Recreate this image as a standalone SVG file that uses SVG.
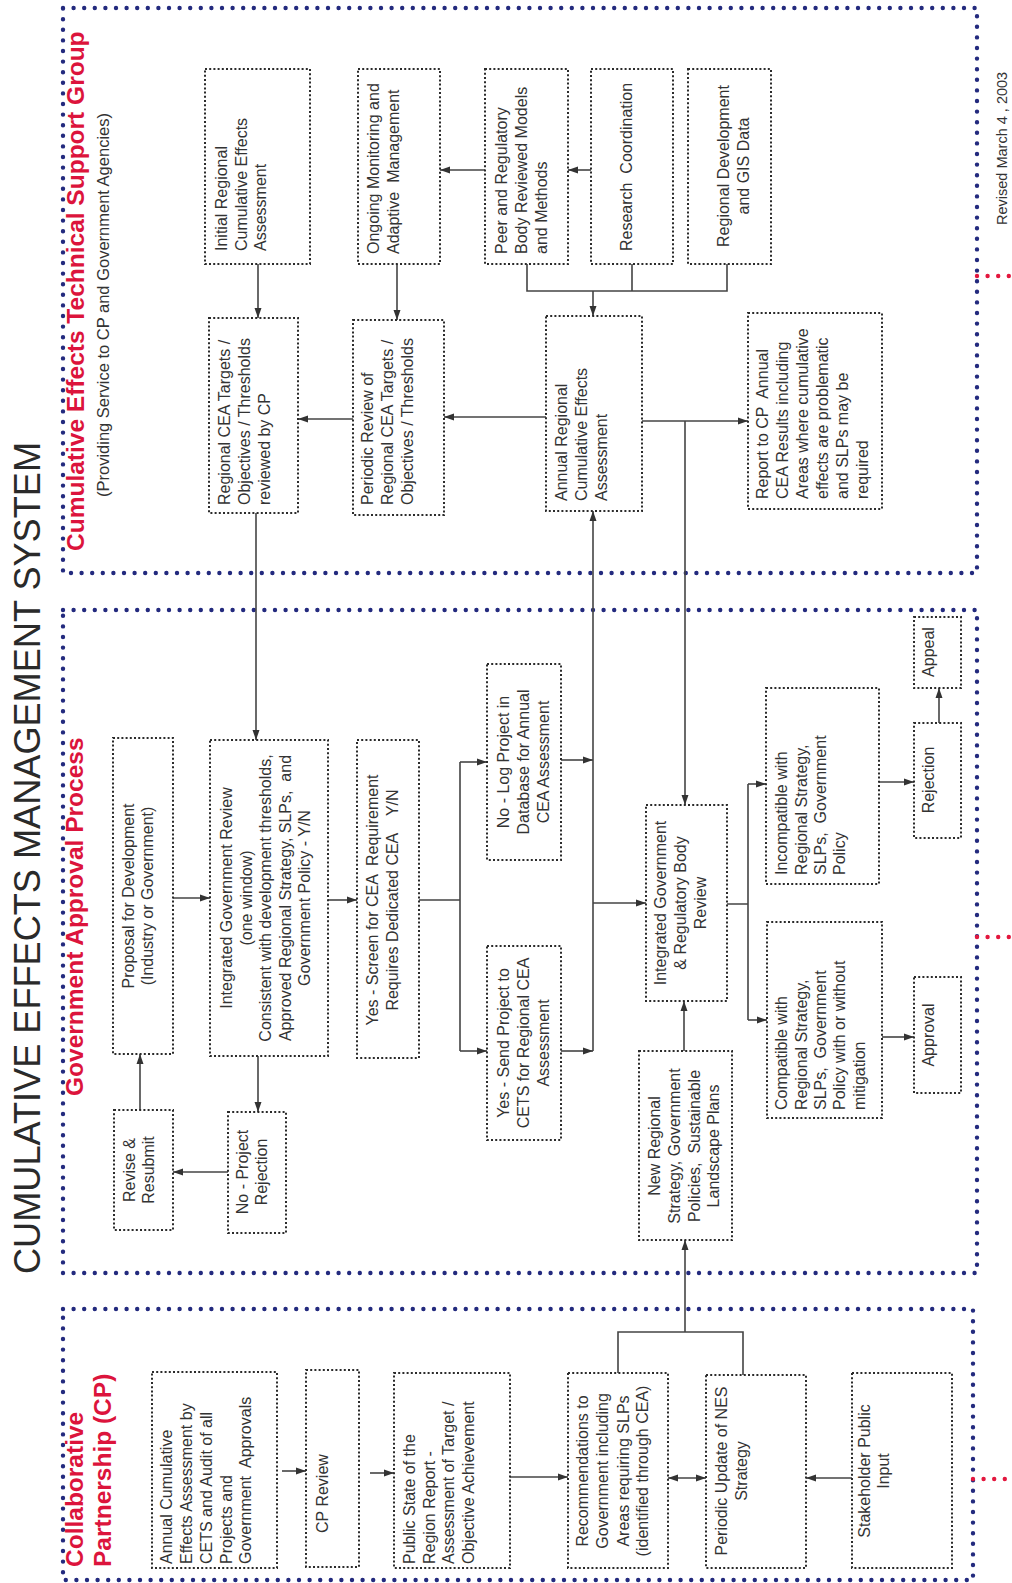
<svg xmlns="http://www.w3.org/2000/svg" width="1012" height="1583" viewBox="0 0 1012 1583">
<style>
.bg{fill:#fff}
.frame{fill:none;stroke:#232a7e;stroke-width:4.4;stroke-linecap:round;stroke-dasharray:0 10.6}
.red{fill:none;stroke:#e3173e;stroke-width:4.4;stroke-linecap:round;stroke-dasharray:0 10.6}
.nd rect{fill:#fff;stroke:#2b2b2b;stroke-width:2;stroke-dasharray:2 2.2}
.t{font-family:"Liberation Sans",Arial,Helvetica,sans-serif;font-size:16px;fill:#333;white-space:pre}
.c{text-anchor:middle}
.hd{font-family:"Liberation Sans",Arial,Helvetica,sans-serif;font-weight:bold;font-size:24.5px;fill:#dc143c}
.ti{font-family:"Liberation Sans",Arial,Helvetica,sans-serif;font-size:36px;fill:#2a2a2a}
.cn line,.cn path{stroke:#444;stroke-width:1.6;fill:none}
</style>
<defs>
<marker id="ah" markerUnits="userSpaceOnUse" markerWidth="10" markerHeight="8" refX="10" refY="4" orient="auto-start-reverse"><path d="M0,0.5 L10,4 L0,7.5 z" fill="#333"/></marker>
</defs>
<rect class="bg" x="0" y="0" width="1012" height="1583"/>

<g id="frames">
<rect class="frame" x="63" y="8" width="914" height="565"/>
<rect class="frame" x="63" y="610" width="914" height="663"/>
<rect class="frame" x="63" y="1309" width="910" height="271"/>
<line class="red" x1="977" y1="276" x2="1010" y2="276"/>
<line class="red" x1="977" y1="937" x2="1010" y2="937"/>
<line class="red" x1="973" y1="1479" x2="1010" y2="1479"/>
</g>

<g id="titles">
<text class="ti" transform="translate(40,1274) rotate(-90)" textLength="832" lengthAdjust="spacingAndGlyphs">CUMULATIVE EFFECTS MANAGEMENT SYSTEM</text>
<text class="hd" transform="translate(84,551) rotate(-90)">Cumulative Effects Technical Support Group</text>
<text class="t" style="font-size:16.5px" transform="translate(109,497) rotate(-90)">(Providing Service to CP and Government Agencies)</text>
<text class="hd" transform="translate(83,1096) rotate(-90)">Government Approval Process</text>
<text class="hd" transform="translate(83,1567) rotate(-90)"><tspan x="0" y="0">Collaborative</tspan><tspan x="0" y="28">Partnership (CP)</tspan></text>
<text class="t" style="font-size:14.5px" transform="translate(1007,225) rotate(-90)">Revised March 4 , 2003</text>
</g>

<g id="connectors" class="cn">
<line x1="591" y1="170" x2="568" y2="170" marker-end="url(#ah)"/>
<line x1="485" y1="170" x2="440" y2="170" marker-end="url(#ah)"/>
<line x1="258" y1="264" x2="258" y2="318" marker-end="url(#ah)"/>
<line x1="397" y1="264" x2="397" y2="320" marker-end="url(#ah)"/>
<path d="M527,264 V291 H727 V264 M632,264 V291"/>
<line x1="593" y1="291" x2="593" y2="316" marker-end="url(#ah)"/>
<line x1="546" y1="417" x2="444" y2="417" marker-end="url(#ah)"/>
<line x1="353" y1="419" x2="298" y2="419" marker-end="url(#ah)"/>
<line x1="642" y1="421" x2="748" y2="421" marker-end="url(#ah)"/>
<line x1="685" y1="421" x2="685" y2="805" marker-end="url(#ah)"/>
<line x1="256" y1="513" x2="256" y2="740" marker-end="url(#ah)"/>
<line x1="593" y1="1051" x2="593" y2="511" marker-end="url(#ah)"/>

<line x1="173" y1="898" x2="210" y2="898" marker-end="url(#ah)"/>
<line x1="328" y1="900" x2="357" y2="900" marker-end="url(#ah)"/>
<path d="M419,900 H460 M460,762 V1051"/>
<line x1="460" y1="762" x2="487" y2="762" marker-end="url(#ah)"/>
<line x1="460" y1="1051" x2="487" y2="1051" marker-end="url(#ah)"/>
<line x1="561" y1="760" x2="593" y2="760" marker-end="url(#ah)"/>
<line x1="561" y1="1051" x2="593" y2="1051" marker-end="url(#ah)"/>
<line x1="593" y1="903" x2="646" y2="903" marker-end="url(#ah)"/>
<line x1="258" y1="1056" x2="258" y2="1112" marker-end="url(#ah)"/>
<line x1="228" y1="1172" x2="173" y2="1172" marker-end="url(#ah)"/>
<line x1="140" y1="1110" x2="140" y2="1054" marker-end="url(#ah)"/>
<line x1="684" y1="1051" x2="684" y2="1001" marker-end="url(#ah)"/>
<path d="M727,904 H748 M748,784 V1020"/>
<line x1="748" y1="784" x2="766" y2="784" marker-end="url(#ah)"/>
<line x1="748" y1="1020" x2="767" y2="1020" marker-end="url(#ah)"/>
<line x1="879" y1="782" x2="914" y2="782" marker-end="url(#ah)"/>
<line x1="882" y1="1037" x2="914" y2="1037" marker-end="url(#ah)"/>
<line x1="939" y1="723" x2="939" y2="688" marker-end="url(#ah)"/>

<line x1="282" y1="1471" x2="306" y2="1471" marker-end="url(#ah)"/>
<line x1="370" y1="1473" x2="394" y2="1473" marker-end="url(#ah)"/>
<line x1="510" y1="1477" x2="568" y2="1477" marker-end="url(#ah)"/>
<line x1="668" y1="1478" x2="706" y2="1478" marker-start="url(#ah)" marker-end="url(#ah)"/>
<line x1="852" y1="1478" x2="806" y2="1478" marker-end="url(#ah)"/>
<path d="M618,1373 V1332 H743 V1375"/>
<line x1="685" y1="1332" x2="685" y2="1240" marker-end="url(#ah)"/>
</g>

<g id="initial" class="nd"><rect x="205" y="69" width="105" height="195"/>
<text class="t" transform="translate(227,251) rotate(-90)"><tspan x="0" y="0">Initial Regional</tspan><tspan x="0" y="19.5">Cumulative Effects</tspan><tspan x="0" y="39">Assessment</tspan></text></g>

<g id="ongoing" class="nd"><rect x="358" y="69" width="82" height="195"/>
<text class="t" transform="translate(379,254) rotate(-90)"><tspan x="0" y="0">Ongoing Monitoring and</tspan><tspan x="0" y="20">Adaptive  Management</tspan></text></g>

<g id="peer" class="nd"><rect x="485" y="69" width="83" height="195"/>
<text class="t" transform="translate(507,254) rotate(-90)"><tspan x="0" y="0">Peer and Regulatory</tspan><tspan x="0" y="20">Body Reviewed Models</tspan><tspan x="0" y="40">and Methods</tspan></text></g>

<g id="research" class="nd"><rect x="591" y="69" width="82" height="195"/>
<text class="t" transform="translate(632,251) rotate(-90)">Research  Coordination</text></g>

<g id="gis" class="nd"><rect x="688" y="69" width="83" height="195"/>
<text class="t c" transform="translate(729,166) rotate(-90)"><tspan x="0" y="0">Regional Development</tspan><tspan x="0" y="20">and GIS Data</tspan></text></g>

<g id="targets" class="nd"><rect x="209" y="318" width="89" height="195"/>
<text class="t" transform="translate(230,505) rotate(-90)"><tspan x="0" y="0">Regional CEA Targets /</tspan><tspan x="0" y="20">Objectives / Thresholds</tspan><tspan x="0" y="39.5">reviewed by CP</tspan></text></g>

<g id="periodicReview" class="nd"><rect x="353" y="320" width="91" height="195"/>
<text class="t" transform="translate(373,505) rotate(-90)"><tspan x="0" y="0">Periodic Review of</tspan><tspan x="0" y="20">Regional CEA Targets /</tspan><tspan x="0" y="40">Objectives / Thresholds</tspan></text></g>

<g id="annualRegional" class="nd"><rect x="546" y="316" width="96" height="195"/>
<text class="t" transform="translate(567,501) rotate(-90)"><tspan x="0" y="0">Annual Regional</tspan><tspan x="0" y="20">Cumulative Effects</tspan><tspan x="0" y="39.5">Assessment</tspan></text></g>

<g id="report" class="nd"><rect x="748" y="313" width="134" height="196"/>
<text class="t" transform="translate(768,499) rotate(-90)"><tspan x="0" y="0">Report to CP  Annual</tspan><tspan x="0" y="20">CEA Results including</tspan><tspan x="0" y="40">Areas where cumulative</tspan><tspan x="0" y="60">effects are problematic</tspan><tspan x="0" y="80">and SLPs may be</tspan><tspan x="0" y="99.5">required</tspan></text></g>

<g id="proposal" class="nd"><rect x="113" y="738" width="60" height="316"/>
<text class="t c" transform="translate(134,896) rotate(-90)"><tspan x="0" y="0">Proposal for Development</tspan><tspan x="0" y="19">(Industry or Government)</tspan></text></g>

<g id="integratedReview" class="nd"><rect x="210" y="740" width="118" height="316"/>
<text class="t c" transform="translate(232,898) rotate(-90)"><tspan x="0" y="0">Integrated Government Review</tspan><tspan x="0" y="19.5">(one window)</tspan><tspan x="0" y="39">Consistent with development thresholds,</tspan><tspan x="0" y="58.5">Approved Regional Strategy, SLPs,  and</tspan><tspan x="0" y="78">Government Policy - Y/N</tspan></text></g>

<g id="screen" class="nd"><rect x="357" y="740" width="62" height="318"/>
<text class="t c" transform="translate(378,900) rotate(-90)"><tspan x="0" y="0">Yes - Screen for CEA  Requirement</tspan><tspan x="0" y="20">Requires Dedicated CEA    Y/N</tspan></text></g>

<g id="revise" class="nd"><rect x="114" y="1110" width="59" height="120"/>
<text class="t c" transform="translate(135,1170) rotate(-90)"><tspan x="0" y="0">Revise &amp;</tspan><tspan x="0" y="19">Resubmit</tspan></text></g>

<g id="noProject" class="nd"><rect x="228" y="1112" width="58" height="121"/>
<text class="t c" transform="translate(248,1172) rotate(-90)"><tspan x="0" y="0">No - Project</tspan><tspan x="0" y="19">Rejection</tspan></text></g>

<g id="noLog" class="nd"><rect x="487" y="664" width="74" height="196"/>
<text class="t c" transform="translate(509,762) rotate(-90)"><tspan x="0" y="0">No - Log Project in</tspan><tspan x="0" y="20">Database for Annual</tspan><tspan x="0" y="40">CEA Assessment</tspan></text></g>

<g id="yesSend" class="nd"><rect x="487" y="946" width="74" height="194"/>
<text class="t c" transform="translate(509,1043) rotate(-90)"><tspan x="0" y="0">Yes - Send Project to</tspan><tspan x="0" y="20">CETS for Regional CEA</tspan><tspan x="0" y="40">Assessment</tspan></text></g>

<g id="regulatoryReview" class="nd"><rect x="646" y="805" width="81" height="196"/>
<text class="t c" transform="translate(666,903) rotate(-90)"><tspan x="0" y="0">Integrated Government</tspan><tspan x="0" y="20">&amp; Regulatory Body</tspan><tspan x="0" y="40">Review</tspan></text></g>

<g id="newRegional" class="nd"><rect x="639" y="1051" width="93" height="189"/>
<text class="t c" transform="translate(660,1146) rotate(-90)"><tspan x="0" y="0">New Regional</tspan><tspan x="0" y="20">Strategy, Government</tspan><tspan x="0" y="40">Policies,  Sustainable</tspan><tspan x="0" y="59">Landscape Plans</tspan></text></g>

<g id="incompatible" class="nd"><rect x="766" y="688" width="113" height="196"/>
<text class="t" transform="translate(787,875) rotate(-90)"><tspan x="0" y="0">Incompatible with</tspan><tspan x="0" y="20">Regional Strategy,</tspan><tspan x="0" y="39">SLPs,  Government</tspan><tspan x="0" y="58">Policy</tspan></text></g>

<g id="compatible" class="nd"><rect x="767" y="922" width="115" height="196"/>
<text class="t" transform="translate(787,1110) rotate(-90)"><tspan x="0" y="0">Compatible with</tspan><tspan x="0" y="20">Regional Strategy,</tspan><tspan x="0" y="39">SLPs,  Government</tspan><tspan x="0" y="58">Policy with or without</tspan><tspan x="0" y="78">mitigation</tspan></text></g>

<g id="rejection" class="nd"><rect x="914" y="723" width="47" height="115"/>
<text class="t c" transform="translate(934,780) rotate(-90)">Rejection</text></g>

<g id="appeal" class="nd"><rect x="914" y="617" width="47" height="71"/>
<text class="t c" transform="translate(934,652) rotate(-90)">Appeal</text></g>

<g id="approval" class="nd"><rect x="914" y="977" width="47" height="116"/>
<text class="t c" transform="translate(934,1035) rotate(-90)">Approval</text></g>

<g id="annualCumulative" class="nd"><rect x="152" y="1372" width="125" height="196"/>
<text class="t" transform="translate(172,1564) rotate(-90)"><tspan x="0" y="0">Annual Cumulative</tspan><tspan x="0" y="20">Effects Assessment by</tspan><tspan x="0" y="40">CETS and Audit of all</tspan><tspan x="0" y="60">Projects and</tspan><tspan x="0" y="79">Government  Approvals</tspan></text></g>

<g id="cpReview" class="nd"><rect x="306" y="1370" width="53" height="197"/>
<text class="t" transform="translate(328,1533) rotate(-90)">CP Review</text></g>

<g id="publicState" class="nd"><rect x="394" y="1373" width="116" height="195"/>
<text class="t" transform="translate(415,1564) rotate(-90)"><tspan x="0" y="0">Public State of the</tspan><tspan x="0" y="19.5">Region Report -</tspan><tspan x="0" y="39">Assessment of Target /</tspan><tspan x="0" y="59">Objective Achievement</tspan></text></g>

<g id="recommendations" class="nd"><rect x="568" y="1373" width="100" height="195"/>
<text class="t c" transform="translate(588,1471) rotate(-90)"><tspan x="0" y="0">Recommendations to</tspan><tspan x="0" y="20">Government including</tspan><tspan x="0" y="40.5">Areas requiring SLPs</tspan><tspan x="0" y="60">(identified through CEA)</tspan></text></g>

<g id="periodicUpdate" class="nd"><rect x="706" y="1375" width="100" height="193"/>
<text class="t c" transform="translate(727,1471) rotate(-90)"><tspan x="0" y="0">Periodic Update of NES</tspan><tspan x="0" y="19.5">Strategy</tspan></text></g>

<g id="stakeholder" class="nd"><rect x="852" y="1373" width="100" height="195"/>
<text class="t c" transform="translate(870,1471) rotate(-90)"><tspan x="0" y="0">Stakeholder Public</tspan><tspan x="0" y="19">Input</tspan></text></g>
</svg>
